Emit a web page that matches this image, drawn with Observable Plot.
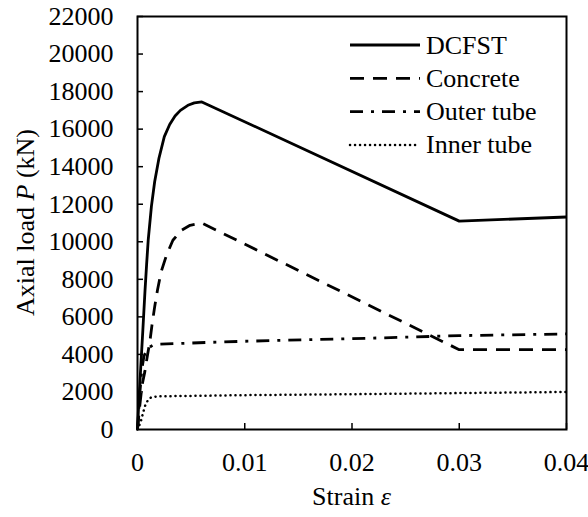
<!DOCTYPE html>
<html>
<head>
<meta charset="utf-8">
<script src="https://cdn.jsdelivr.net/npm/d3@7"></script>
<script src="https://cdn.jsdelivr.net/npm/@observablehq/plot@0.6"></script>
<style>
  html, body { margin: 0; padding: 0; background: #fff; }
  #chart { width: 588px; height: 517px; }
</style>
</head>
<body>
<div id="chart"></div>
<script>
// ---- Data ----
const seriesNames = ["DCFST", "Concrete", "Outer tube", "Inner tube"];

const dcfstStrain = [0, 0.0001, 0.0003, 0.0005, 0.0007, 0.00085, 0.001, 0.0013, 0.0016, 0.002, 0.0025, 0.003, 0.0035, 0.004, 0.0047, 0.0053, 0.006, 0.03, 0.04];
const dcfstLoad   = [0, 1200, 3300, 5300, 7400, 8800, 10100, 11900, 13200, 14450, 15600, 16250, 16700, 17000, 17270, 17400, 17450, 11100, 11320];

const concreteStrain = [0, 0.0002, 0.00043, 0.00068, 0.00093, 0.00115, 0.00135, 0.0016, 0.00186, 0.0022, 0.0027, 0.0033, 0.0041, 0.0049, 0.006, 0.03, 0.04];
const concreteLoad   = [0, 1200, 2370, 3070, 3960, 4670, 5560, 6530, 7420, 8390, 9280, 10080, 10610, 10880, 11000, 4250, 4250];

const outerStrain = [0, 0.0002, 0.0004, 0.0006, 0.0009, 0.0014, 0.002, 0.0066, 0.01, 0.0227, 0.03, 0.04];
const outerLoad   = [0, 1800, 3200, 3900, 4300, 4480, 4540, 4640, 4700, 4880, 5000, 5090];

const innerStrain = [0, 0.0003, 0.0005, 0.0007, 0.001, 0.0013, 0.002, 0.005, 0.01, 0.02, 0.03, 0.04];
const innerLoad   = [0, 400, 850, 1250, 1600, 1720, 1770, 1790, 1830, 1880, 1940, 2000];

const xTicks = [0, 0.01, 0.02, 0.03, 0.04];
const yTicks = [0, 2000, 4000, 6000, 8000, 10000, 12000, 14000, 16000, 18000, 20000, 22000];

// ---- Styles ----
const styles = {
  "DCFST":      {strokeWidth: 2.8, dash: null, cap: "butt"},
  "Concrete":   {strokeWidth: 2.8, dash: "14,9", cap: "butt"},
  "Outer tube": {strokeWidth: 2.8, dash: "13,8,3,8", cap: "butt"},
  "Inner tube": {strokeWidth: 2.5, dash: "0.1,4.9", cap: "round"}
};

function toRows(name, xs, ys) { return xs.map((x, i) => ({series: name, strain: x, load: ys[i]})); }
const seriesData = {
  "DCFST": toRows("DCFST", dcfstStrain, dcfstLoad),
  "Concrete": toRows("Concrete", concreteStrain, concreteLoad),
  "Outer tube": toRows("Outer tube", outerStrain, outerLoad),
  "Inner tube": toRows("Inner tube", innerStrain, innerLoad)
};

const FONT = "Liberation Serif";
const FS = 26;

const W = 588, H = 517;
const mL = 137, mR = 22, mT = 16, mB = 88;
const innerH = H - mT - mB;
const innerW = W - mL - mR;

function labelsMark(index, scales, values, dims) {
  const g = d3.create("svg:g").attr("font-family", FONT).attr("font-size", FS).attr("fill", "#000");
  // y axis label
  const ty = g.append("text")
    .attr("transform", `translate(34,${(dims.marginTop + dims.height - dims.marginBottom) / 2}) rotate(-90)`)
    .attr("text-anchor", "middle");
  ty.append("tspan").text("Axial load ");
  ty.append("tspan").attr("font-style", "italic").text("P");
  ty.append("tspan").text(" (kN)");
  // x axis label
  const tx = g.append("text")
    .attr("x", (dims.marginLeft + dims.width - dims.marginRight) / 2)
    .attr("y", 505)
    .attr("text-anchor", "middle");
  tx.append("tspan").text("Strain ");
  tx.append("tspan").attr("font-style", "italic").text("ε");
  return g.node();
}

function legendMark(index, scales, values, dims) {
  const g = d3.create("svg:g").attr("font-family", FONT).attr("font-size", FS).attr("fill", "#000");
  const x0 = 350, len = 70, y0 = 45, step = 33.3;
  seriesNames.forEach((name, i) => {
    const y = y0 + i * step;
    const s = styles[name];
    g.append("line")
      .attr("x1", x0).attr("x2", x0 + len).attr("y1", y).attr("y2", y)
      .attr("stroke", "#000").attr("stroke-width", s.strokeWidth)
      .attr("stroke-linecap", s.cap)
      .attr("stroke-dasharray", s.dash);
    g.append("text").attr("x", x0 + len + 6).attr("y", y).attr("dy", "0.33em")
      .attr("text-anchor", "start").text(name);
  });
  return g.node();
}

const lineMarks = seriesNames.map(name => Plot.line(seriesData[name], {
  x: "strain", y: "load",
  stroke: "#000",
  strokeWidth: styles[name].strokeWidth,
  strokeDasharray: styles[name].dash,
  strokeLinecap: styles[name].cap,
  strokeLinejoin: "round",
  curve: "linear"
}));

const chart = Plot.plot({
  width: W,
  height: H,
  marginLeft: mL,
  marginRight: mR,
  marginTop: mT,
  marginBottom: mB,
  style: {fontFamily: FONT, fontSize: FS + "px", background: "#fff", color: "#000"},
  x: {domain: [0, 0.04], label: null},
  y: {domain: [0, 22000], label: null},
  marks: [
    ...lineMarks,
    // inward ticks
    Plot.tickX(xTicks.slice(1), {x: d => d, stroke: "#000", strokeWidth: 1.5, insetTop: innerH - 6}),
    Plot.tickY(yTicks.slice(1), {y: d => d, stroke: "#000", strokeWidth: 1.5, insetRight: innerW - 6}),
    Plot.axisX(xTicks, {tickSize: 0, tickPadding: 23, fontSize: FS, fontFamily: FONT, tickFormat: d => String(d), fill: "#000"}),
    Plot.axisY(yTicks, {tickSize: 0, tickPadding: 24, fontSize: FS, fontFamily: FONT, tickFormat: d => String(d), fill: "#000"}),
    Plot.frame({stroke: "#000", strokeWidth: 2}),
    labelsMark,
    legendMark
  ]
});

document.getElementById("chart").append(chart);
</script>
</body>
</html>
